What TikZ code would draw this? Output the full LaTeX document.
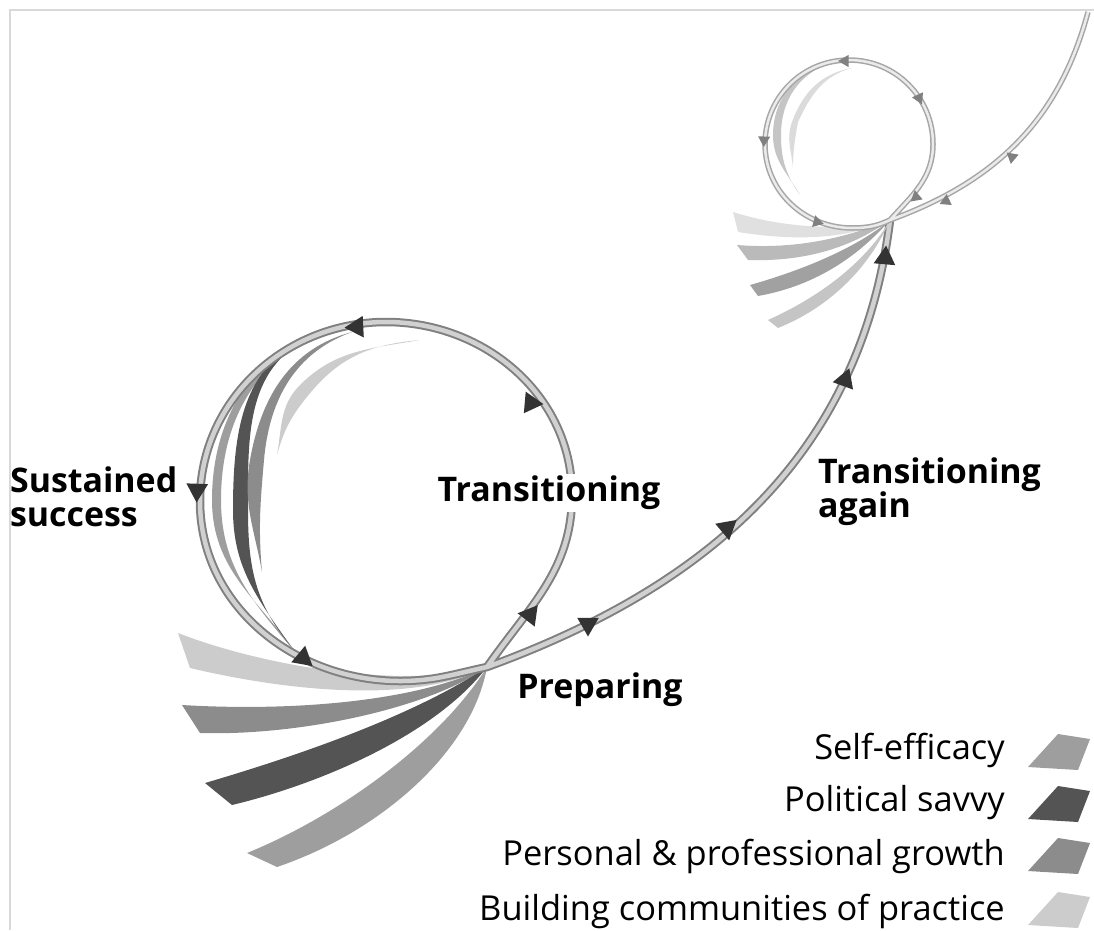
\documentclass[tikz,border=0pt]{standalone}
\usepackage{fontspec}
\setmainfont{Open Sans}
\usepackage{tikz}
\usetikzlibrary{shapes.geometric}
\definecolor{effc}{gray}{0.62}
\definecolor{polc}{gray}{0.33}
\definecolor{grwc}{gray}{0.55}
\definecolor{bldc}{gray}{0.80}
\tikzset{
    track/.style = {draw=black!50, line width=0.04cm, double=black!18, double distance=0.09cm},
    thintrack/.style = {draw=black!35, line width=0.03cm, double=black!8, double distance=0.05cm},
    bigtip/.style = {regular polygon, regular polygon sides=3, fill=black!80, inner sep=0pt, minimum size=0.5cm},
    smalltip/.style = {regular polygon, regular polygon sides=3, fill=black!50, inner sep=0pt, minimum size=0.28cm},
    stage/.style = {font=\bfseries\fontsize{19.3}{19.5}\selectfont, align=left, inner sep=1pt},
    legend/.style = {font=\fontsize{19.6}{22}\selectfont, anchor=east, inner sep=0pt},
}
\begin{document}
\begin{tikzpicture}[x=0.02cm, y=0.02cm]
\useasboundingbox (0,0) rectangle (1094,-930);
\draw[black!15, line width=0.05cm] (10,-930) -- (10,-10) -- (1094,-10);
\coordinate (P) at (487,-667);
\coordinate (Q) at (890,-220);
%
% fan at the first loop
\fill[bldc] (178,-633) .. controls (260,-665) and (400,-690) .. (P) .. controls (420,-702) and (300,-694) .. (190,-668) -- cycle;
\fill[grwc] (182,-705) .. controls (300,-712) and (420,-700) .. (P) .. controls (430,-708) and (300,-736) .. (200,-733) -- cycle;
\fill[polc] (205,-783) .. controls (290,-758) and (410,-718) .. (P) .. controls (435,-735) and (320,-784) .. (232,-805) -- cycle;
\fill[effc] (247,-853) .. controls (340,-815) and (440,-742) .. (P) .. controls (472,-752) and (380,-832) .. (277,-867) -- cycle;
%
\fill[effc] (330,-330) to[out=195,in=90] (212,-500) to[out=-90,in=125] (300,-658) to[out=130,in=-90] (221,-500) to[out=90,in=200] (330,-330) -- cycle;
\fill[polc] (310,-338) to[out=200,in=90] (233,-510) to[out=-90,in=125] (290,-645) to[out=130,in=-90] (248,-510) to[out=90,in=205] (310,-338) -- cycle;
\fill[grwc] (352,-332) to[out=195,in=80] (250,-460) to[out=-100,in=100] (262,-572) to[out=95,in=-95] (264,-460) to[out=85,in=200] (352,-332) -- cycle;
\fill[bldc] (420,-340) to[out=190,in=45] (300,-385) to[out=-135,in=80] (277,-455) to[out=75,in=-130] (311,-392) to[out=50,in=185] (420,-340) -- cycle;
%
\draw[track] (P) to[out=55,in=-90] (572,-495) to[out=90,in=0] (386,-322) to[out=180,in=90] (200,-501) to[out=-90,in=180] (400,-681) to[out=0,in=192] (P) to[out=20,in=-97] (Q);
%
% fan at the second loop
\fill[bldc!60] (733,-212) .. controls (790,-230) and (850,-230) .. (Q) .. controls (850,-238) and (800,-242) .. (738,-232) -- cycle;
\fill[grwc!60] (737,-245) .. controls (800,-250) and (850,-236) .. (Q) .. controls (855,-245) and (810,-262) .. (748,-260) -- cycle;
\fill[polc!55] (750,-285) .. controls (810,-268) and (860,-245) .. (Q) .. controls (862,-252) and (820,-285) .. (758,-296) -- cycle;
\fill[effc!60] (768,-320) .. controls (830,-292) and (870,-255) .. (Q) .. controls (872,-262) and (835,-305) .. (778,-328) -- cycle;
%
\fill[effc!60] (830,-63) to[out=195,in=90] (773,-135) to[out=-90,in=120] (800,-195) to[out=125,in=-90] (781,-135) to[out=90,in=200] (830,-63) -- cycle;
\fill[bldc!70] (852,-68) to[out=190,in=70] (792,-122) to[out=-110,in=95] (793,-168) to[out=90,in=-100] (798,-122) to[out=65,in=195] (852,-68) -- cycle;
%
\draw[thintrack] (Q) to[out=48,in=-90] (933,-144) to[out=90,in=0] (849,-60) to[out=180,in=90] (765,-144) to[out=-90,in=180] (852,-228) to[out=0,in=205] (Q) to[out=20,in=-105] (1088,-12);
%
% arrow heads
\node[bigtip, rotate=25] (t1) at (531,-403) {};
\node[bigtip, rotate=93] (t2) at (357,-327) {};
\node[bigtip, rotate=178] (t3) at (197,-490) {};
\node[bigtip, rotate=-130] (t4) at (303,-658) {};
\node[bigtip, rotate=-38] (t5) at (530,-615) {};
\node[bigtip, rotate=180] (t6) at (588,-624) {};
\node[bigtip, rotate=-170] (t7) at (727,-528) {};
\node[bigtip, rotate=-20] (t8) at (845,-380) {};
\node[bigtip, rotate=-5] (t9) at (885,-258) {};
%
\node[smalltip, rotate=90] (s1) at (845,-61) {};
\node[smalltip, rotate=-155] (s2) at (919,-98) {};
\node[smalltip, rotate=178] (s3) at (764,-140) {};
\node[smalltip, rotate=-105] (s4) at (817,-222) {};
\node[smalltip, rotate=10] (s5) at (916,-197) {};
\node[smalltip, rotate=115] (s6) at (946,-201) {};
\node[smalltip, rotate=170] (s7) at (1012,-157) {};
%
% stage names
\node[stage, anchor=west] (sust) at (8,-497) {Sustained\\success};
\node[stage, fill=white] (trans) at (549,-493) {Transitioning};
\node[stage] (prep) at (600,-690) {Preparing};
\node[stage, anchor=west] (again) at (816,-492) {Transitioning\\again};
%
% legend
\node[legend] (lgeff) at (1005,-750) {Self-efficacy};
\node[legend] (lgpol) at (1005,-803) {Political savvy};
\node[legend] (lggrw) at (1005,-856) {Personal \& professional growth};
\node[legend] (lgbld) at (1005,-911) {Building communities of practice};
\fill[effc] (1028,-767) -- (1058,-734) -- (1090,-739) -- (1078,-770) -- cycle;
\fill[polc] (1028,-819) -- (1058,-786) -- (1090,-791) -- (1078,-822) -- cycle;
\fill[grwc] (1028,-871) -- (1058,-838) -- (1090,-843) -- (1078,-874) -- cycle;
\fill[bldc] (1028,-925) -- (1058,-892) -- (1090,-897) -- (1078,-928) -- cycle;
\end{tikzpicture}
\end{document}
